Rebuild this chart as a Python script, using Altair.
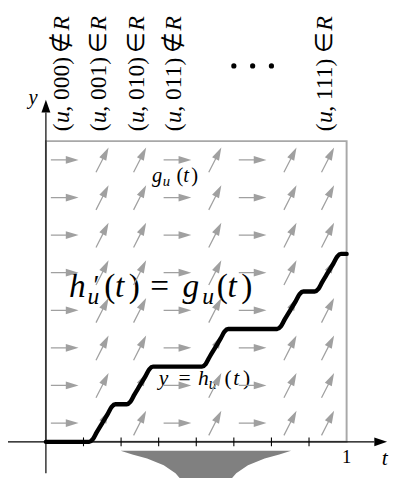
import altair as alt
import pandas as pd

# ---------------- data ----------------
in_R = [0, 1, 1, 0, 1, 0, 1, 1]          # column membership (1 = in R -> slanted arrows)
N_ROWS = 8
label_cols = [0, 1, 2, 3, 7]
label_bits = ["000", "001", "010", "011", "111"]
label_rel = ["∉", "∈", "∈", "∉", "∈"]

curve_t = [0.0, 0.14375, 0.15625, 0.16875, 0.1875, 0.20625, 0.21875, 0.23125,
           0.26875, 0.28125, 0.29375, 0.3125, 0.33125, 0.34375, 0.35625,
           0.51875, 0.53125, 0.54375, 0.5625, 0.58125, 0.59375, 0.60625,
           0.76875, 0.78125, 0.79375, 0.8125, 0.83125, 0.84375, 0.85625,
           0.89375, 0.90625, 0.91875, 0.9375, 0.95625, 0.96875, 0.98125, 1.0]
curve_y = [0, 0, 0.07, 0.25, 0.5, 0.75, 0.93, 1,
           1, 1.07, 1.25, 1.5, 1.75, 1.93, 2,
           2, 2.07, 2.25, 2.5, 2.75, 2.93, 3,
           3, 3.07, 3.25, 3.5, 3.75, 3.93, 4,
           4, 4.07, 4.25, 4.5, 4.75, 4.93, 5, 5]

tick_t = [0.125, 0.25, 0.375, 0.5, 0.625, 0.75, 0.875]
dots_t = [0.625, 0.6875, 0.75]
dots_y = 10.0

funnel_t = [0.2485, 0.2876, 0.3365, 0.3919, 0.4309, 0.4505,
            0.6134, 0.6329, 0.6720, 0.7274, 0.7762, 0.8153]
funnel_bottom = [-0.2345, -0.3388, -0.443, -0.6254, -0.8339, -1.0163,
                 -1.0163, -0.8339, -0.6254, -0.443, -0.3388, -0.2345]
funnel_top = -0.2345

# axis extents (data units)
X_AXIS = (-0.12606, 1.0922)
Y_AXIS = (-0.834, 8.763)
X_HEAD = 1.1134
Y_HEAD = 8.933

# ---------------- styling ----------------
W, H = 390, 470
PX_T = 1 / 307.0      # one pixel in t units
PX_Y = 1 / 38.375     # one pixel in y units
FONT = "Liberation Serif"
GRAY = "#a0a0a0"
xs = alt.Scale(domain=[-0.12606, 1.14430], nice=False, zero=False)
ys = alt.Scale(domain=[-0.83388, 11.41368], nice=False, zero=False)

ARROW = "M-1,-0.045L0.08,-0.045L0.08,-0.28L1,0L0.08,0.28L0.08,0.045L-1,0.045Z"
HEAD = "M-1,-0.7L1,0L-1,0.7Z"


def X(f="t"):
    return alt.X(f, type="quantitative", scale=xs, axis=None)


def Y(f="y"):
    return alt.Y(f, type="quantitative", scale=ys, axis=None)


# ---------- typeset math labels as segments (text, italic, size, dx px, dy px) ----------
segs = []


def add_formula(t0, y0, parts, angle=0):
    for s, it, fs, dx, dy in parts:
        if angle == 0:
            segs.append({"t": t0 + dx * PX_T, "y": y0 - dy * PX_Y, "s": s,
                         "it": it, "fs": fs, "ang": 0})
        else:  # rotated 270: text runs upward
            segs.append({"t": t0 + dy * PX_T, "y": y0 + dx * PX_Y, "s": s,
                         "it": it, "fs": fs, "ang": 270})


# h'_u(t) = g_u(t)
add_formula(0.0766, 3.857, [
    ("h", 1, 34, 0, 0), ("′", 0, 28, 25, -3), ("u", 1, 24, 19, 7),
    ("(", 0, 34, 36, 0), ("t", 1, 34, 47, 0), (")", 0, 34, 61, 0),
    ("=", 0, 34, 83, 0),
    ("g", 1, 34, 116, 0), ("u", 1, 24, 136, 7),
    ("(", 0, 34, 151, 0), ("t", 1, 34, 162, 0), (")", 0, 34, 176, 0)])
# y = h_u(t)
add_formula(0.3756, 1.511, [
    ("y", 1, 22, 0, 0), ("=", 0, 22, 20, 0), ("h", 1, 22, 40, 0),
    ("u", 1, 16, 51, 4), ("(", 0, 22, 67, 0), ("t", 1, 22, 76, 0), (")", 0, 22, 86, 0)])
# g_u(t)
add_formula(0.3528, 6.92, [
    ("g", 1, 21, 0, 0), ("u", 1, 15, 11, 4), ("(", 0, 21, 25, 0),
    ("t", 1, 21, 32, 0), (")", 0, 21, 40, 0)])
# rotated column labels
for c, bits, rel in zip(label_cols, label_bits, label_rel):
    add_formula((c + 0.5) / 8, 8.261, [
        ("(", 0, 24, 0, 4), ("u", 1, 24, 8.5, 4), (", " + bits + ")", 0, 24, 20, 4),
        (rel, 0, 24, 80, 4), ("R", 1, 24, 103, 4)], angle=270)

segdf = pd.DataFrame(segs)


def seg_layer(italic):
    return alt.Chart(segdf[segdf["it"] == italic]).mark_text(
        font=FONT, fontStyle="italic" if italic else "normal",
        align="left", baseline="alphabetic", color="black"
    ).encode(x=X(), y=Y(), text="s:N", size=alt.Size("fs:Q", scale=None),
             angle=alt.Angle("ang:Q", scale=None))


# arrows field
arrows = pd.DataFrame([
    {"t": (i + 0.5) / 8, "y": j + 0.5, "a": 297 if in_R[i] else 0}
    for i in range(len(in_R)) for j in range(N_ROWS)
])
arrow_layer = alt.Chart(arrows).mark_point(
    shape=ARROW, filled=True, color=GRAY, opacity=1, size=800, strokeWidth=0
).encode(x=X(), y=Y(), angle=alt.Angle("a:Q", scale=None))

# box
box = pd.DataFrame([{"t": 0.0, "t2": 1.0, "y": 0.0, "y2": 8.0}])
box_layer = alt.Chart(box).mark_rect(
    fillOpacity=0, stroke="#a8a8a8", strokeWidth=2
).encode(x=X(), x2="t2", y=Y(), y2="y2")

# curve
curve = pd.DataFrame({"t": curve_t, "y": curve_y})
curve_layer = alt.Chart(curve).mark_line(
    color="black", strokeWidth=4.5, interpolate="monotone", strokeCap="round"
).encode(x=X(), y=Y())

# axes
xaxis = pd.DataFrame([{"t": X_AXIS[0], "t2": X_AXIS[1], "y": 0.0}])
xaxis_layer = alt.Chart(xaxis).mark_rule(color="black", strokeWidth=1.2).encode(
    x=X(), x2="t2", y=Y())
yaxis = pd.DataFrame([{"t": 0.0, "y": Y_AXIS[0], "y2": Y_AXIS[1]}])
yaxis_layer = alt.Chart(yaxis).mark_rule(color="black", strokeWidth=1.2).encode(
    x=X(), y=Y(), y2="y2")
heads = pd.DataFrame([{"t": X_HEAD, "y": 0.0, "a": 0}, {"t": 0.0, "y": Y_HEAD, "a": 270}])
heads_layer = alt.Chart(heads).mark_point(
    shape=HEAD, filled=True, color="black", opacity=1, size=169, strokeWidth=0
).encode(x=X(), y=Y(), angle=alt.Angle("a:Q", scale=None))
ticks = pd.DataFrame({"t": tick_t, "y": [-0.117] * len(tick_t), "y2": [0.117] * len(tick_t)})
ticks_layer = alt.Chart(ticks).mark_rule(color="black", strokeWidth=1.1).encode(
    x=X(), y=Y(), y2="y2")

axis_text = pd.DataFrame([
    {"t": 1.0, "y": -0.573, "s": "1", "fs": 19, "it": 0},
    {"t": 1.1264, "y": -0.625, "s": "t", "fs": 22, "it": 1},
    {"t": -0.043, "y": 8.99, "s": "y", "fs": 21, "it": 1},
])


def axis_text_layer(italic):
    return alt.Chart(axis_text[axis_text["it"] == italic]).mark_text(
        font=FONT, fontStyle="italic" if italic else "normal",
        align="center", baseline="alphabetic", color="black"
    ).encode(x=X(), y=Y(), text="s:N", size=alt.Size("fs:Q", scale=None))


dots = pd.DataFrame({"t": dots_t, "y": [dots_y] * len(dots_t)})
dots_layer = alt.Chart(dots).mark_circle(color="black", opacity=1, size=28).encode(
    x=X(), y=Y())

funnel = pd.DataFrame({"t": funnel_t, "y": funnel_bottom, "y2": [funnel_top] * len(funnel_t)})
funnel_layer = alt.Chart(funnel).mark_area(color="#808080", opacity=1).encode(
    x=X(), y=Y(), y2="y2")

chart = alt.layer(
    seg_layer(0), seg_layer(1), arrow_layer, box_layer, funnel_layer,
    curve_layer, xaxis_layer, yaxis_layer, ticks_layer, heads_layer,
    axis_text_layer(0), axis_text_layer(1), dots_layer
).properties(
    width=W, height=H, padding=0, autosize=alt.AutoSizeParams(type="none")
).configure_view(stroke=None)

chart.save("out.html", embed_options={"renderer": "svg", "actions": False})
